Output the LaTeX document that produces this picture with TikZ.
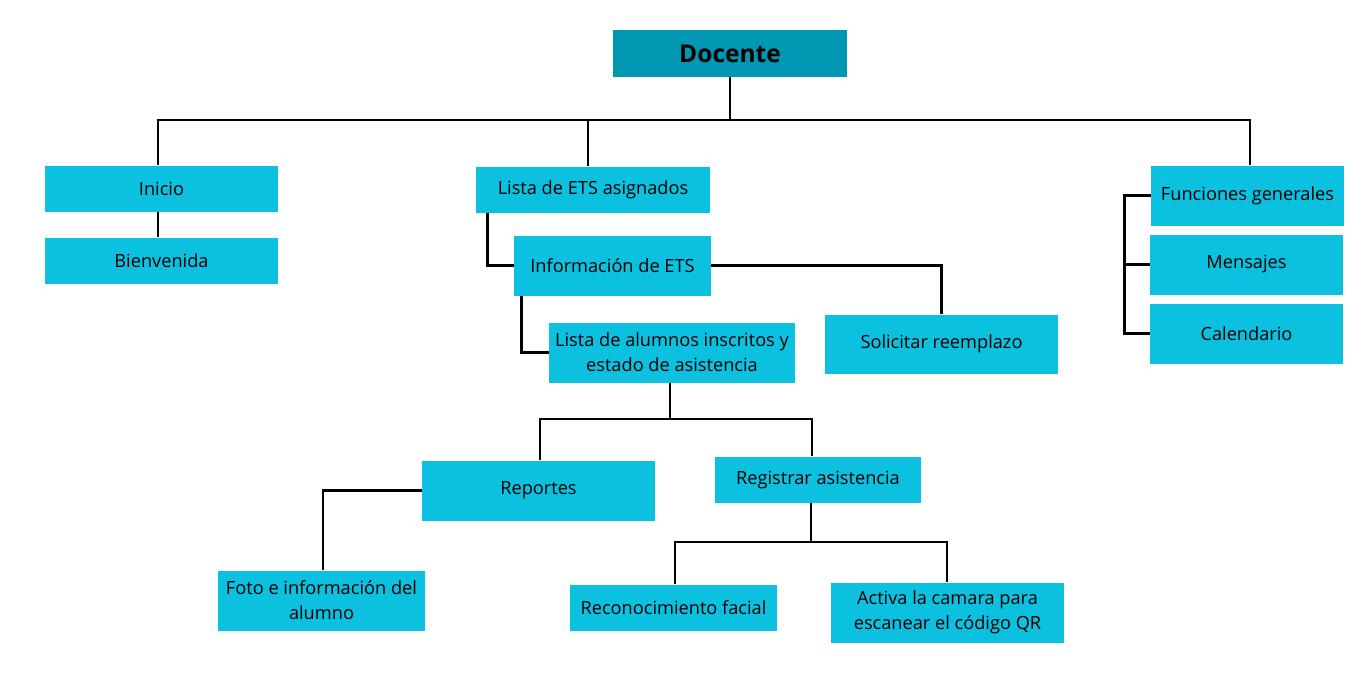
\documentclass[tikz,border=0pt]{standalone}
\usepackage{fontspec}
\setmainfont{Open Sans}
\definecolor{boxblue}{HTML}{0CC0DF}
\definecolor{headblue}{HTML}{0097B2}
\tikzset{
  box/.style={fill=boxblue, draw=none, inner sep=0pt, align=center,
    font=\fontsize{18.2}{25}\selectfont, text=black},
  headbox/.style={fill=headblue, draw=none, inner sep=0pt, align=center,
    font=\fontsize{24.5}{30}\selectfont\bfseries, text=black},
  conn/.style={line width=2.8pt, draw=black, line join=miter}
}
\begin{document}
\begin{tikzpicture}[x=1pt,y=-1pt]
\useasboundingbox (0,0) rectangle (1357,675);
\fill[white] (0,0) rectangle (1357,675);

\node[headbox, minimum width=234, minimum height=47] (docente) at (730,53.5) {Docente};

\node[box, minimum width=233, minimum height=46] (inicio) at (161.5,188.5) {Inicio};
\node[box, minimum width=233, minimum height=46] (bienvenida) at (161.5,260.5) {Bienvenida};

\node[box, minimum width=234, minimum height=46] (listaets) at (593,189.5) {Lista de ETS asignados};
\node[box, minimum width=197, minimum height=60] (info) at (612.5,265.5) {Información de ETS};
\node[box, minimum width=233, minimum height=59] (solicitar) at (941.5,344) {Solicitar reemplazo};
\node[box, minimum width=246, minimum height=60] (alumnos) at (672,352.5) {Lista de alumnos inscritos y\\estado de asistencia};

\node[box, minimum width=233, minimum height=60] (reportes) at (538.5,490.5) {Reportes};
\node[box, minimum width=206, minimum height=46] (registrar) at (818,479.5) {Registrar asistencia};
\node[box, minimum width=207, minimum height=60] (foto) at (321.5,600.5) {Foto e información del\\alumno};
\node[box, minimum width=207, minimum height=46] (recon) at (673.5,607.5) {Reconocimiento facial};
\node[box, minimum width=233, minimum height=60] (activa) at (947.5,612.5) {Activa la camara para\\escanear el código QR};

\node[box, minimum width=193, minimum height=60] (funciones) at (1247.5,195.5) {Funciones generales};
\node[box, minimum width=193, minimum height=60] (mensajes) at (1246.5,264.5) {Mensajes};
\node[box, minimum width=193, minimum height=60] (calendario) at (1246.5,333.5) {Calendario};

% top bus
\coordinate (bus) at (730,120);
\draw[conn] (docente.south) -- (bus);
\draw[conn] ([xshift=-3.5]inicio.north) |- (bus) -| ([xshift=2.5]funciones.north);
\draw[conn] ([xshift=-5]listaets.north) -- ([xshift=-5]listaets.north |- bus);
\draw[conn] ([xshift=-3.5]inicio.south) -- ([xshift=-3.5]bienvenida.north);

% lista ETS branch
\draw[conn] ([xshift=12]listaets.south west) |- (info.west);
\draw[conn] (info.east) -| (solicitar.north);
\draw[conn] ([xshift=8]info.south west) |- (alumnos.west);

% alumnos bus
\coordinate (bus2) at (670,419);
\draw[conn] ([xshift=-2]alumnos.south) -- (bus2);
\draw[conn] ([xshift=1.5]reportes.north) |- (bus2) -| ([xshift=-6]registrar.north);
\draw[conn] (reportes.west) -| ([xshift=1.5]foto.north);

% registrar bus
\coordinate (bus3) at (811,542);
\draw[conn] ([xshift=-7]registrar.south) -- (bus3);
\draw[conn] ([xshift=1.5]recon.north) |- (bus3) -| ([xshift=-0.5]activa.north);

% bracket
\draw[conn] (funciones.west) -- ++(-26,0) |- (calendario.west);
\draw[conn] (mensajes.west) -- ++(-25,0);
\end{tikzpicture}
\end{document}
